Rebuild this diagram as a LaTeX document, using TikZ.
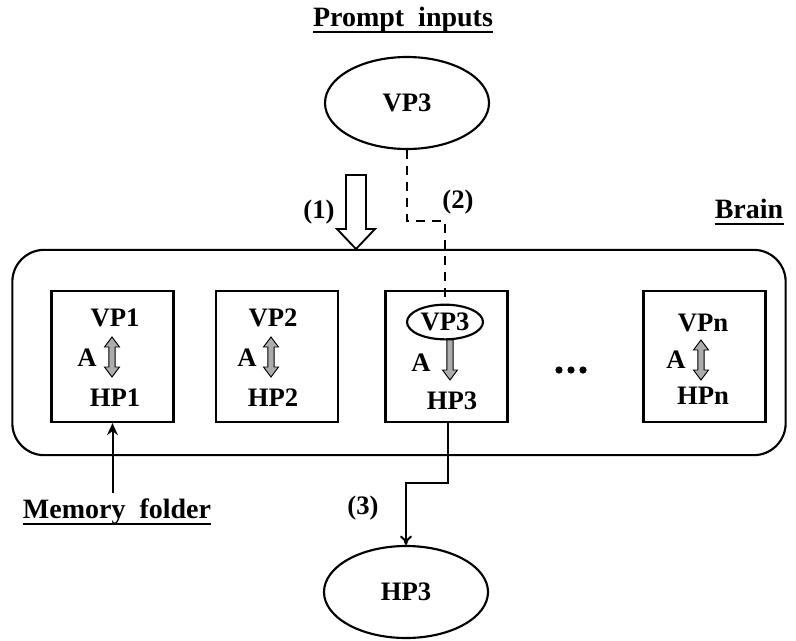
\documentclass[tikz,border=0pt]{standalone}
\usepackage{fontspec}
\setmainfont{Liberation Serif}
\usetikzlibrary{shapes.geometric, arrows.meta}

\begin{document}
\begin{tikzpicture}[x=0.75pt, y=-0.75pt,
  txt/.style={font=\fontsize{20}{24}\selectfont\bfseries, inner sep=0pt},
  heading/.style={font=\fontsize{21}{25}\selectfont\bfseries, inner sep=0pt, anchor=base},
  oval/.style={ellipse, draw, line width=1.6pt, minimum width=123pt, minimum height=69pt,
    inner sep=0pt, font=\fontsize{20}{24}\selectfont\bfseries},
  smalloval/.style={ellipse, draw, line width=1.6pt, minimum width=57pt, minimum height=26pt,
    inner sep=0pt, font=\fontsize{20}{24}\selectfont\bfseries},
  memory/.style={draw, line width=1.8pt, minimum width=91.5pt, minimum height=98pt, inner sep=0pt},
  brainbox/.style={draw, line width=1.6pt, rounded corners=24pt, minimum width=580pt,
    minimum height=154pt, inner sep=0pt},
  conn/.style={line width=1.5pt},
  pics/updown/.style={code={
    \draw[line width=0.7pt, fill=gray!65]
      (0,-20) -- (7.5,-10) -- (3.2,-10) -- (3.2,10) -- (7.5,10) -- (0,20)
      -- (-7.5,10) -- (-3.2,10) -- (-3.2,-10) -- (-7.5,-10) -- cycle;}},
  pics/down/.style={code={
    \draw[line width=0.7pt, fill=gray!65]
      (-3.2,-20) -- (3.2,-20) -- (3.2,10) -- (7.5,10) -- (0,20)
      -- (-7.5,10) -- (-3.2,10) -- cycle;}}
]
\useasboundingbox (0,0) rectangle (796,640);

% headings
\node[heading] (prompt) at (403,26) {Prompt\ \ inputs};
\draw[line width=1.4pt] ([yshift=-4.5pt]prompt.base west) -- ([yshift=-4.5pt]prompt.base east);
\node[heading] (brainlbl) at (749,218) {Brain};
\draw[line width=1.4pt] ([yshift=-4.5pt]brainlbl.base west) -- ([yshift=-4.5pt]brainlbl.base east);
\node[heading] (mem) at (117,518) {Memory\ \ folder};
\draw[line width=1.4pt] ([yshift=-4.5pt]mem.base west) -- ([yshift=-4.5pt]mem.base east);

% input and output prompts
\node[oval] (vpin) at (407,103) {VP3};
\node[oval] (hpout) at (406,592) {HP3};

% brain container
\node[brainbox] (brain) at (399,352.5) {};

% memory folders
\node[memory] (b1) at (112.5,356.5) {};
\node[memory] (b2) at (277,356.5) {};
\node[memory] (b3) at (446.5,356.5) {};
\node[memory] (bn) at (704.5,356.5) {};

% folder 1
\node[txt] (vp1) at (115,318) {VP1};
\node[txt] (hp1) at (115,398) {HP1};
\node[txt] (a1) at (87,358) {A};
\pic at (112,357) {updown};

% folder 2
\node[txt] (vp2) at (273,318) {VP2};
\node[txt] (hp2) at (273,398) {HP2};
\node[txt] (a2) at (247,358) {A};
\pic at (271,357) {updown};

% folder 3
\node[smalloval] (vp3) at (445,322) {VP3};
\node[txt] (hp3) at (452,401) {HP3};
\node[txt] (a3) at (421,363) {A};
\pic at (450,360) {down};

% folder n
\node[txt] (vpn) at (703,323) {VPn};
\node[txt] (hpn) at (703,396) {HPn};
\node[txt] (an) at (676,360) {A};
\pic at (701,360) {updown};

% ellipsis between folders
\node[inner sep=0pt, minimum size=1pt] (dots) at (571,370) {};
\foreach \dx in {-12,0,12}
  \fill ([xshift=\dx*0.75pt]dots) circle (3.6);

% step (1): hollow block arrow into the brain
\draw[line width=1.4pt, fill=white]
  (346,175) -- (366,175) -- (366,229) -- (375,229) -- (356,249)
  -- (337,229) -- (346,229) -- cycle;
\node[txt] (s1) at (319,212) {(1)};

% step (2): dashed matching path
\draw[conn, dash pattern=on 7pt off 5pt] (vpin.south) -- ++(0,71) -| (vp3.north);
\node[txt] (s2) at (458,202) {(2)};

% step (3): output path
\draw[conn, -{To[length=7pt, width=9pt]}] ([xshift=1.1pt]b3.south) -- ++(0,60) -| (hpout.north);
\node[txt] (s3) at (363,508) {(3)};

% memory folder pointer
\draw[conn, -{Stealth[length=9pt, width=8pt]}, shorten <=4pt] (mem.north -| b1.south) -- (b1.south);
\end{tikzpicture}
\end{document}
